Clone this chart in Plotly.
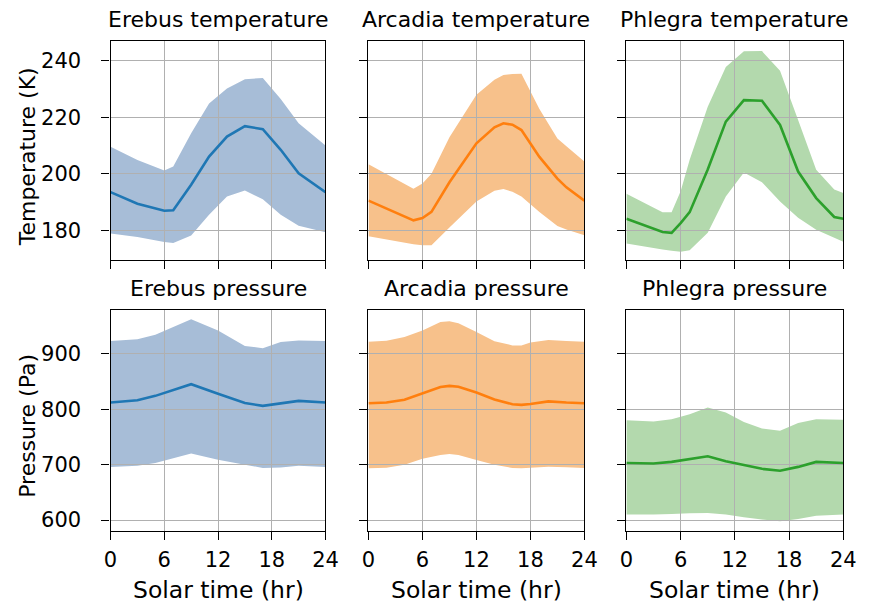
import plotly.graph_objects as go

# ---- Diurnal temperature (K): hour, mean, upper and lower envelope ----
erebus_t_hr = [0, 3, 6, 7, 9, 11, 13, 15, 17, 19, 21, 24]
erebus_t_mean = [193.5, 189.4, 186.9, 187.1, 196.1, 206.1, 213.2, 216.9, 215.8, 208.5, 200.2, 193.5]
erebus_t_hi = [209.6, 204.9, 201.2, 202.6, 214.4, 224.9, 230.2, 233.5, 234.0, 226.5, 217.9, 210.0]
erebus_t_lo = [178.8, 177.6, 175.8, 175.5, 178.1, 185.5, 192.0, 194.1, 191.0, 185.5, 181.6, 179.3]

arcadia_t_hr = [0, 5, 6, 7, 9, 12, 14, 15, 16, 17, 19, 21, 22, 24]
arcadia_t_mean = [190.5, 183.5, 184.3, 186.5, 197.0, 210.8, 216.5, 217.9, 217.4, 215.5, 206.0, 198.3, 195.2, 190.5]
arcadia_t_hi = [203.4, 194.7, 196.6, 200.0, 213.0, 228.0, 233.3, 235.0, 235.4, 235.5, 223.0, 212.5, 209.8, 204.4]
arcadia_t_lo = [177.9, 175.0, 174.7, 174.7, 181.0, 190.2, 194.0, 194.6, 193.6, 192.0, 186.5, 181.5, 180.3, 178.2]

phlegra_t_hr = [0, 4, 5, 6, 7, 9, 11, 13, 15, 17, 19, 21, 23, 24]
phlegra_t_mean = [184.1, 179.4, 179.1, 182.5, 186.4, 201.5, 218.5, 226.1, 225.9, 217.3, 200.8, 191.4, 184.7, 184.1]
phlegra_t_hi = [192.9, 186.4, 186.4, 193.8, 205.0, 223.8, 237.9, 243.4, 243.5, 236.5, 219.1, 201.4, 194.4, 193.2]
phlegra_t_lo = [175.3, 173.2, 172.7, 172.4, 172.9, 179.1, 192.0, 200.5, 197.0, 190.2, 184.4, 180.2, 177.3, 175.9]

# ---- Diurnal pressure (Pa) ----
erebus_p_hr = [0, 3, 5, 9, 12, 15, 17, 19, 21, 24]
erebus_p_mean = [812, 816, 824, 845, 828, 811, 806, 811, 815, 812]
erebus_p_hi = [923, 926, 934, 962, 942, 914, 910, 921, 924, 923]
erebus_p_lo = [696, 698, 703, 720, 709, 700, 694, 695, 698, 696]

arcadia_p_hr = [0, 2, 4, 6, 8, 9, 10, 12, 14, 16, 17, 18, 20, 22, 24]
arcadia_p_mean = [810.8, 812, 817, 829, 840, 842, 840.5, 830, 817.5, 809, 807.8, 809.5, 814, 812, 810.8]
arcadia_p_hi = [921.6, 923.5, 930, 942, 957, 958.7, 955, 939, 922.5, 915, 915, 920, 924.5, 923, 921.6]
arcadia_p_lo = [693.4, 694.5, 700, 710.5, 717.5, 719.2, 717.5, 708.5, 700, 694, 693.4, 694.5, 696.4, 695.5, 694]

phlegra_p_hr = [0, 3, 5, 7, 9, 11, 13, 15, 17, 19, 21, 24]
phlegra_p_mean = [703, 702, 705, 710, 715, 706, 699, 692.5, 689, 696, 705, 703]
phlegra_p_hi = [780, 778, 782, 791, 803, 794, 777, 765, 761, 775, 782, 781]
phlegra_p_lo = [610, 610, 611, 612.5, 613, 610, 605, 601, 598, 602, 608, 610]

site_names = ["Erebus", "Arcadia", "Phlegra"]
line_colors = ["#1f77b4", "#ff7f0e", "#2ca02c"]
band_colors = ["#a7bdd7", "#f7c18b", "#b3d9ad"]

x_ticks = [0, 6, 12, 18, 24]
temp_ticks = [180, 200, 220, 240]
pres_ticks = [600, 700, 800, 900]

W, H = 869, 608
col_px = [(106, 326), (370, 591), (634, 856)]
row_px = [(41, 260), (311, 532)]

panels = [
    [(erebus_t_hr, erebus_t_mean, erebus_t_hi, erebus_t_lo),
     (arcadia_t_hr, arcadia_t_mean, arcadia_t_hi, arcadia_t_lo),
     (phlegra_t_hr, phlegra_t_mean, phlegra_t_hi, phlegra_t_lo)],
    [(erebus_p_hr, erebus_p_mean, erebus_p_hi, erebus_p_lo),
     (arcadia_p_hr, arcadia_p_mean, arcadia_p_hi, arcadia_p_lo),
     (phlegra_p_hr, phlegra_p_mean, phlegra_p_hi, phlegra_p_lo)],
]
row_ranges = [[169.6, 247.1], [580.2, 977.9]]
row_ticks = [temp_ticks, pres_ticks]
row_kind = ["temperature", "pressure"]

FONT = "DejaVu Sans"
fig = go.Figure()
shapes = []
annotations = []
layout_axes = {}

for r in range(2):
    for c in range(3):
        k = r * 3 + c + 1
        xa = "x" if k == 1 else f"x{k}"
        ya = "y" if k == 1 else f"y{k}"
        hr, mean, hi, lo = panels[r][c]

        # envelope as a filled path in data coordinates, drawn beneath the grid
        pts = [f"{h},{v}" for h, v in zip(hr, hi)] + \
              [f"{h},{v}" for h, v in zip(hr[::-1], lo[::-1])]
        shapes.append(dict(type="path", xref=xa, yref=ya, layer="below",
                           path="M " + " L ".join(pts) + " Z",
                           fillcolor=band_colors[c], line=dict(width=0)))

        fig.add_trace(go.Scatter(x=hr, y=mean, mode="lines", xaxis=xa, yaxis=ya,
                                 line=dict(color=line_colors[c], width=2.6),
                                 showlegend=False, hoverinfo="skip"))

        x0, x1 = col_px[c]
        y0, y1 = row_px[r]
        common = dict(showline=True, linecolor="black", linewidth=1.3, mirror=True,
                      ticks="outside", ticklen=8, tickwidth=1.3, tickcolor="black",
                      showgrid=True, gridcolor="#b0b0b0", gridwidth=1.1,
                      zeroline=False, tickfont=dict(family=FONT, size=21, color="black"))
        layout_axes["xaxis" if k == 1 else f"xaxis{k}"] = dict(
            common, domain=[x0 / W, x1 / W], anchor=ya, range=[0, 24],
            tickvals=x_ticks, ticktext=[str(v) for v in x_ticks],
            showticklabels=(r == 1), ticklabelstandoff=2)
        layout_axes["yaxis" if k == 1 else f"yaxis{k}"] = dict(
            common, domain=[1 - y1 / H, 1 - y0 / H], anchor=xa, range=row_ranges[r],
            tickvals=row_ticks[r], ticktext=[str(v) for v in row_ticks[r]],
            showticklabels=(c == 0), ticklabelstandoff=16)

        title_y = 20 if r == 0 else 289
        annotations.append(dict(text=f"{site_names[c]} {row_kind[r]}", xref="paper", yref="paper",
                                x=(x0 + x1) / 2 / W, y=1 - title_y / H, xanchor="center",
                                yanchor="middle", showarrow=False,
                                font=dict(family=FONT, size=22, color="black")))

for c in range(3):
    x0, x1 = col_px[c]
    annotations.append(dict(text="Solar time (hr)", xref="paper", yref="paper",
                            x=(x0 + x1) / 2 / W, y=1 - 591 / H, xanchor="center",
                            yanchor="middle", showarrow=False,
                            font=dict(family=FONT, size=23.5, color="black")))

for text, yc in [("Temperature (K)", 157), ("Pressure (Pa)", 427)]:
    annotations.append(dict(text=text, xref="paper", yref="paper", x=21 / W, y=1 - yc / H,
                            xanchor="center", yanchor="middle", textangle=-90, showarrow=False,
                            font=dict(family=FONT, size=22, color="black")))

fig.update_layout(width=W, height=H, margin=dict(l=0, r=0, t=0, b=0),
                  paper_bgcolor="white", plot_bgcolor="white",
                  shapes=shapes, annotations=annotations, **layout_axes)

fig.write_html("out.html")
